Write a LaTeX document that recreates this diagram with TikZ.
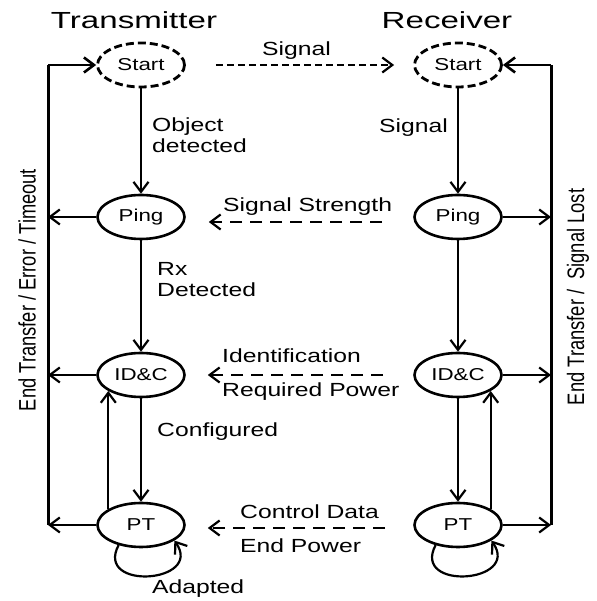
\documentclass[tikz,border=0pt]{standalone}
\usepackage{fontspec}
\setmainfont{Liberation Sans}
\newfontfamily\lblfont[FakeStretch=1.3]{Liberation Sans}
\newfontfamily\ttlfont[FakeStretch=1.42]{Liberation Sans}
\newfontfamily\rotfont[FakeStretch=0.77]{Liberation Sans}
\usetikzlibrary{arrows.meta,positioning,calc,shapes.geometric}
\tikzset{arr/.style={-{Straight Barb[length=10pt,width=15pt]},line width=2.2pt},
  sig/.style={arr,dash pattern=on 12pt off 8pt},
  sigtop/.style={arr,dash pattern=on 7pt off 4pt},
  bus/.style={line width=3pt},
  state/.style={ellipse,draw,line width=2.6pt,minimum width=87pt,minimum height=44pt,inner sep=0pt,
    font=\lblfont\fontsize{17.2}{20}\selectfont},
  startst/.style={state,line width=2.8pt,dash pattern=on 8pt off 4pt},
  lbl/.style={inner sep=0pt,anchor=base west,font=\lblfont\fontsize{19}{21}\selectfont},
  lblml/.style={lbl,anchor=north west,align=left},
  ttl/.style={inner sep=0pt,font=\ttlfont\fontsize{23.3}{26}\selectfont},
  side/.style={inner sep=0pt,rotate=90,font=\rotfont\fontsize{23.8}{26}\selectfont}}

\begin{document}
\begin{tikzpicture}[x=1pt,y=1pt]
\useasboundingbox (0,0) rectangle (596,601);
% titles
\node[ttl] (txtitle) at (134,581) {Transmitter};
\node[ttl] (rxtitle) at (447,581) {Receiver};
% transmitter states
\node[startst] (startL) at (141,536) {Start};
\node[state] (pingL) at (141,384) {Ping};
\node[state] (idcL) at (141,226) {ID\&C};
\node[state] (ptL) at (141,76) {PT};
% receiver states
\node[startst] (startR) at (458,536) {Start};
\node[state] (pingR) at (458,384) {Ping};
\node[state] (idcR) at (458,226) {ID\&C};
\node[state] (ptR) at (458,76) {PT};
% corners of the return lines
\coordinate (tlL) at (48,536);
\coordinate (blL) at (48,76);
\coordinate (trR) at (551,536);
\coordinate (brR) at (551,76);
% transitions
\draw[arr] (startL) -- (pingL);
\draw[arr] (pingL) -- (idcL);
\draw[arr] (idcL) -- (ptL);
\draw[arr] (ptL.154) -- (idcL.206);
\draw[arr] (ptL.222) .. controls +(-118:52) and +(-55:52) .. (ptL.335);
\draw[arr] (startR) -- (pingR);
\draw[arr] (pingR) -- (idcR);
\draw[arr] (idcR) -- (ptR);
\draw[arr] (ptR.26) -- (idcR.334);
\draw[arr] (ptR.222) .. controls +(-118:52) and +(-55:52) .. (ptR.335);
% return to start
\draw[arr] (pingL) -- (pingL -| tlL);
\draw[arr] (idcL) -- (idcL -| tlL);
\draw[arr] (ptL) -- (blL);
\draw[bus] (blL) -- (tlL);
\draw[arr,line width=2.6pt] (tlL) -- (startL);
\draw[arr] (pingR) -- (pingR -| trR);
\draw[arr] (idcR) -- (idcR -| trR);
\draw[arr] (ptR) -- (brR);
\draw[bus] (brR) -- (trR);
\draw[arr,line width=2.6pt] (trR) -- (startR);
% messages between the two sides
\draw[sigtop,shorten <=30pt,shorten >=19pt] (startL.east) -- (startR.west);
\draw[sig,shorten <=31pt,shorten >=23pt] ([yshift=-5pt]pingR.west) -- ([yshift=-5pt]pingL.east);
\draw[sig,shorten <=30pt,shorten >=22pt] (idcR.west) -- (idcL.east);
\draw[sig,shorten <=28pt,shorten >=22pt] ([yshift=-3pt]ptR.west) -- ([yshift=-3pt]ptL.east);
% labels
\node[lbl] (sigmsg) at (262,545) {Signal};
\node[lblml] (objlbl) at (152,483) {Object\\detected};
\node[lbl,anchor=base east] (siglbl) at (448,468) {Signal};
\node[lbl] (strmsg) at (223,389) {Signal Strength};
\node[lblml] (rxlbl) at (157,339) {Rx\\Detected};
\node[lbl] (idmsg) at (222,238) {Identification};
\node[lbl] (pwrmsg) at (222,204) {Required Power};
\node[lbl] (cfglbl) at (157,164) {Configured};
\node[lbl] (ctlmsg) at (240,82) {Control Data};
\node[lbl] (endmsg) at (240,48) {End Power};
\node[lbl] (adplbl) at (152,8) {Adapted};
\node[side] (exitL) at (27,311) {End Transfer / Error / Timeout};
\node[side] (exitR) at (578,304) {End Transfer /\ \ Signal Lost};
\end{tikzpicture}
\end{document}
